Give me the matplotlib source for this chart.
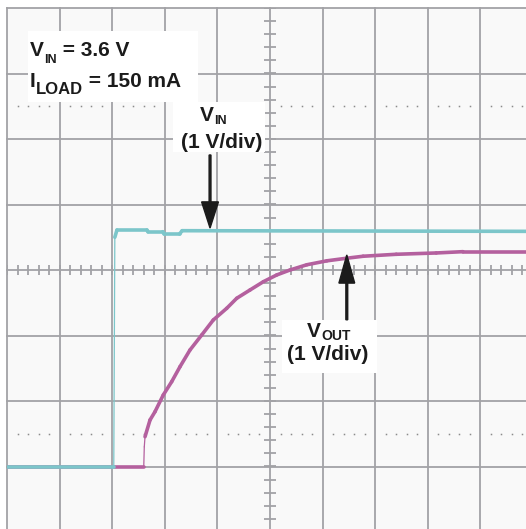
import numpy as np
import matplotlib
matplotlib.use("Agg")
import matplotlib.pyplot as plt
from matplotlib.collections import LineCollection
from matplotlib.patches import Rectangle

plt.rcParams['font.family'] = ['Liberation Sans', 'DejaVu Sans']
plt.rcParams['font.weight'] = 'bold'

# Scope traces, in screen divisions (x: 10 div, y: -4..4 div, 1 V/div)
vin_t = [0.0, 2.02, 2.03, 2.05, 2.09, 2.66, 2.68, 2.96, 2.99, 3.28, 3.33, 10.0]
vin_v = [-3.0, -3.0, -3.0, 0.50, 0.61, 0.61, 0.585, 0.585, 0.55, 0.55, 0.60, 0.59]

vout_t = [0.0, 2.60, 2.61, 2.624, 2.719, 2.814, 2.971, 3.131, 3.289, 3.479, 3.702,
          3.922, 4.177, 4.367, 4.620, 4.873, 5.127, 5.38, 5.70, 6.08, 6.46, 6.77,
          7.40, 8.16, 8.67, 10.0]
vout_v = [-3.0, -3.0, -2.70, -2.545, -2.29, -2.163, -1.908, -1.705, -1.476, -1.221, -0.992,
          -0.763, -0.585, -0.432, -0.305, -0.179, -0.076, 0.0, 0.08, 0.14, 0.18, 0.21,
          0.24, 0.26, 0.28, 0.28]

GRID = '#a2a2a6'
CYAN = '#7cc6ca'
MAGENTA = '#b4609e'
INK = '#1b1b1b'

fig = plt.figure(figsize=(5.26, 5.29), dpi=100)
fig.patch.set_facecolor('white')
ax = fig.add_axes([7 / 526, -3 / 529, 526 / 526, 524 / 529])
ax.set_xlim(0, 10)
ax.set_ylim(-4, 4)
ax.set_facecolor('#f9f9f9')
ax.set_xticks([])
ax.set_yticks([])
for s in ax.spines.values():
    s.set_visible(False)

# graticule
for i in range(11):
    ax.axvline(i, color=GRID, lw=1.3, zorder=1, clip_on=False)
for j in range(-4, 5):
    ax.axhline(j, color=GRID, lw=1.3, zorder=1, clip_on=False)
xs = np.arange(0, 10.001, 0.2)
ys = np.arange(-4, 4.001, 0.2)
ax.vlines(xs, -0.08, 0.08, color=GRID, lw=1.3, zorder=1)
ax.hlines(ys, 5 - 0.105, 5 + 0.105, color=GRID, lw=1.3, zorder=1)
dots = xs[np.abs(xs - np.round(xs)) > 0.05]
for yd in (2.5, -2.5):
    ax.plot(dots, np.full(len(dots), yd), ls='none', marker='s', ms=1.1,
            mec='none', color='#8c8c8c', zorder=1)

# label boxes
for (x0, x1, y0, y1) in [(0.40, 3.63, 2.565, 3.65), (3.16, 4.90, 1.80, 2.565),
                         (5.23, 7.03, -1.573, -0.763)]:
    ax.add_patch(Rectangle((x0, y0), x1 - x0, y1 - y0, facecolor='white',
                           edgecolor='none', zorder=2))


def trace(t, v, color, z):
    pts = np.column_stack([t, v])
    segs = np.stack([pts[:-1], pts[1:]], axis=1)
    dx = np.diff(t) * 52.6
    dy = np.abs(np.diff(v)) * 65.5
    steep = dy > 6 * np.maximum(dx, 1e-6)
    widths = np.where(steep, 0.9, 2.6)
    lc = LineCollection(segs, colors=color, linewidths=widths,
                        capstyle='round', joinstyle='round', zorder=z)
    ax.add_collection(lc)


trace(vout_t, vout_v, MAGENTA, 3)
trace(vin_t, vin_v, CYAN, 4)

fs = 15


def sub_label(x, y, main, sub, rest, sfs, drop):
    t = ax.text(x, y, main, fontsize=fs, color=INK, ha='left', va='baseline', zorder=5)
    s = ax.annotate(sub, xy=(1, 0), xycoords=t, xytext=(0.4, -drop),
                    textcoords='offset points', fontsize=sfs, color=INK,
                    ha='left', va='bottom', zorder=5)
    if rest:
        ax.annotate(rest, xy=(1, 0), xycoords=s, xytext=(0, drop),
                    textcoords='offset points', fontsize=fs, color=INK,
                    ha='left', va='bottom', zorder=5)


sub_label(0.437, 3.27, 'V', 'IN', ' = 3.6 V', 9, 4.2)
sub_label(0.437, 2.79, 'I', 'LOAD', ' = 150 mA', 12, 4.0)

sub_label(3.669, 2.28, 'V', 'IN', '', 9, 1.6)
ax.text(4.09, 1.87, '(1 V/div)', fontsize=fs, color=INK, ha='center', va='baseline', zorder=5)
sub_label(5.70, -1.03, 'V', 'OUT', '', 10, 0.8)
ax.text(6.10, -1.37, '(1 V/div)', fontsize=fs, color=INK, ha='center', va='baseline', zorder=5)

# arrows
ax.arrow(3.86, 1.756, 0, 0.64 - 1.756, width=0.035, head_width=0.32, head_length=0.40,
         length_includes_head=True, color=INK, zorder=6)
ax.arrow(6.46, -0.76, 0, 0.23 + 0.76, width=0.035, head_width=0.30, head_length=0.43,
         length_includes_head=True, color=INK, zorder=6)

fig.savefig('out.png', dpi=100, facecolor='white')
